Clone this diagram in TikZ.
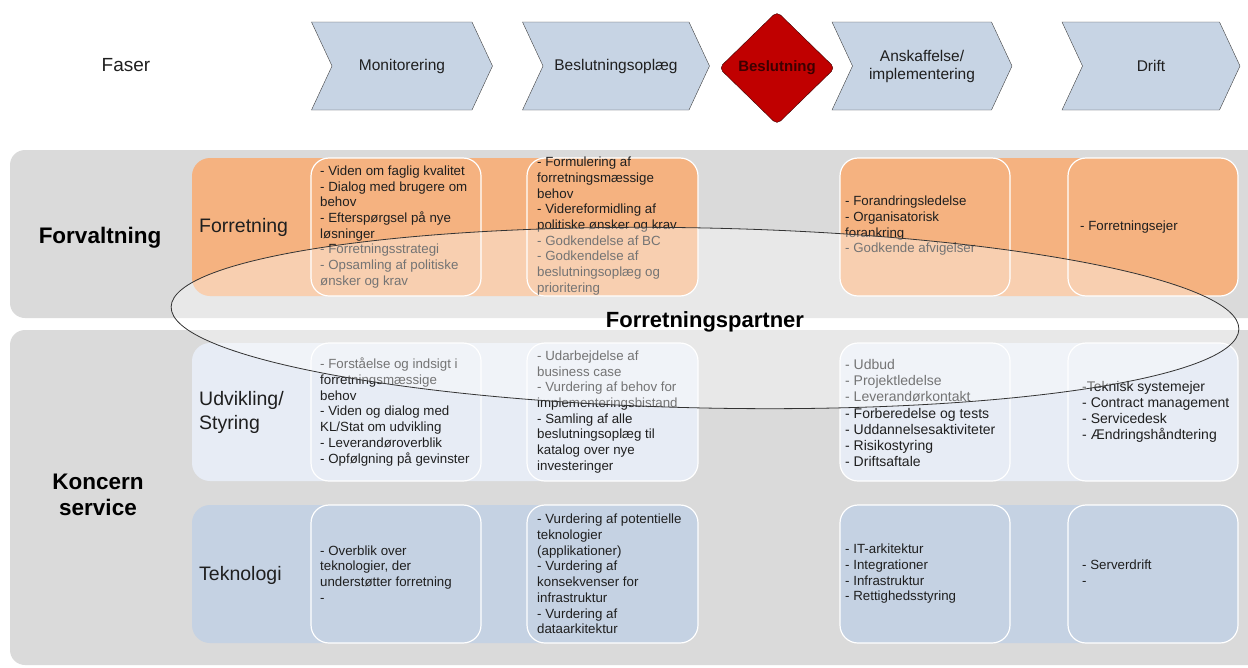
\documentclass[tikz,border=0pt]{standalone}
\usepackage{fontspec}
\setmainfont{Liberation Sans}
\usetikzlibrary{shapes.symbols,shapes.geometric}
\definecolor{bandgrey}{RGB}{218,218,218}
\definecolor{orangeband}{RGB}{245,178,128}
\definecolor{udvband}{RGB}{231,236,245}
\definecolor{tekband}{RGB}{197,210,227}
\definecolor{chevfill}{RGB}{199,212,228}
\definecolor{chevline}{RGB}{64,64,64}
\definecolor{decred}{RGB}{192,0,0}
\definecolor{dectext}{RGB}{60,0,0}
\tikzset{every node/.append style={text=black!88}}
\tikzset{
  phase/.style={draw=chevline, fill=chevfill, shape=signal, signal from=west, signal to=east,
    signal pointer angle=130, minimum height=88pt, inner sep=0pt, align=center,
    font=\fontsize{15.5}{18}\selectfont},
  decision/.style={draw=dectext, fill=decred, shape=diamond, minimum width=116pt, minimum height=113pt,
    inner sep=0pt, rounded corners=5pt, text=dectext, font=\bfseries\fontsize{15}{18}\selectfont},
  cell/.style={draw=white, line width=1.2pt, rounded corners=18pt},
  items/.style={anchor=west, inner sep=0pt, align=left, font=\fontsize{13.3}{15.7}\selectfont},
  bigitems/.style={items, font=\fontsize{14}{16.2}\selectfont},
  rowlabel/.style={anchor=west, inner sep=0pt, align=left, font=\fontsize{19.5}{24}\selectfont},
  grouplabel/.style={align=center, font=\bfseries\fontsize{22.5}{26}\selectfont, text=black},
  partner/.style={draw=black!80, line width=0.8pt, fill=white, fill opacity=0.38}
}

\begin{document}
\begin{tikzpicture}[x=1pt, y=-1pt]
  \useasboundingbox (0,0) rectangle (1248,667);

  \node[font=\fontsize{19}{22}\selectfont] (faser) at (126,65) {Faser};
  \node[phase, minimum width=181pt] (mon) at (402,66) {Monitorering};
  \node[phase, minimum width=187pt] (opl) at (616,66) {Beslutningsoplæg};
  \node[phase, minimum width=180pt] (ansk) at (922,66) {Anskaffelse/\\implementering};
  \node[phase, minimum width=178pt] (drift) at (1151,66) {Drift};
  \node[decision] (besl) at (777,68) {Beslutning};

  \fill[bandgrey, rounded corners=15pt] (10,150) rectangle (1275,318);
  \fill[bandgrey, rounded corners=15pt] (10,330) rectangle (1275,665);

  \foreach \y/\c in {158/orangeband, 343/udvband, 505/tekband} {
    \fill[\c, rounded corners=18pt] (192,\y) rectangle (698,\y+138);
    \fill[\c, rounded corners=18pt] (840,\y) rectangle (1238,\y+138);
    \foreach \a/\b in {311/481, 527/698, 840/1010, 1068/1238}
      \draw[cell] (\a,\y) rectangle (\b,\y+138);
  }

  \node[grouplabel] (forv) at (100,238) {Forvaltning};
  \node[grouplabel] (kons) at (98,495) {Koncern\\service};

  \node[rowlabel] (forr) at (199,227) {Forretning};
  \node[rowlabel] (udv) at (199,412) {Udvikling/\\Styring};
  \node[rowlabel] (tek) at (199,575) {Teknologi};

  \node[items] (fc1) at (320,227) {- Viden om faglig kvalitet\\- Dialog med brugere om\\behov\\- Efterspørgsel på nye\\løsninger\\- Forretningsstrategi\\- Opsamling af politiske\\ønsker og krav};
  \node[items] (fc2) at (537,226) {- Formulering af\\forretningsmæssige\\behov\\- Videreformidling af\\politiske ønsker og krav\\- Godkendelse af BC\\- Godkendelse af\\beslutningsoplæg og\\prioritering};
  \node[items] (fc4) at (845,226) {- Forandringsledelse\\- Organisatorisk\\forankring\\- Godkende afvigelser};
  \node[items] (fc5) at (1080,227) {- Forretningsejer};

  \node[items] (uc1) at (320,412) {- Forståelse og indsigt i\\forretningsmæssige\\behov\\- Viden og dialog med\\KL/Stat om udvikling\\- Leverandøroverblik\\- Opfølgning på gevinster};
  \node[items] (uc2) at (537,412) {- Udarbejdelse af\\business case\\- Vurdering af behov for\\implementeringsbistand\\- Samling af alle\\beslutningsoplæg til\\katalog over nye\\investeringer};
  \node[bigitems] (uc4) at (845,413) {- Udbud\\- Projektledelse\\- Leverandørkontakt\\- Forberedelse og tests\\- Uddannelsesaktiviteter\\- Risikostyring\\- Driftsaftale};
  \node[bigitems] (uc5) at (1082,412) {-Teknisk systemejer\\- Contract management\\- Servicedesk\\- Ændringshåndtering};

  \node[items] (tc1) at (320,574) {- Overblik over\\teknologier, der\\understøtter forretning\\-};
  \node[items] (tc2) at (537,574) {- Vurdering af potentielle\\teknologier\\(applikationer)\\- Vurdering af\\konsekvenser for\\infrastruktur\\- Vurdering af\\dataarkitektur};
  \node[items] (tc4) at (845,574) {- IT-arkitektur\\- Integrationer\\- Infrastruktur\\- Rettighedsstyring};
  \node[items] (tc5) at (1082,573) {- Serverdrift\\-};

  \draw[partner, rotate around={-1.2:(705,318)}] (705,318) ellipse [x radius=534, y radius=90];
  \node[font=\bfseries\fontsize{22}{26}\selectfont, text=black] (partner) at (705,322) {Forretningspartner};
\end{tikzpicture}
\end{document}
